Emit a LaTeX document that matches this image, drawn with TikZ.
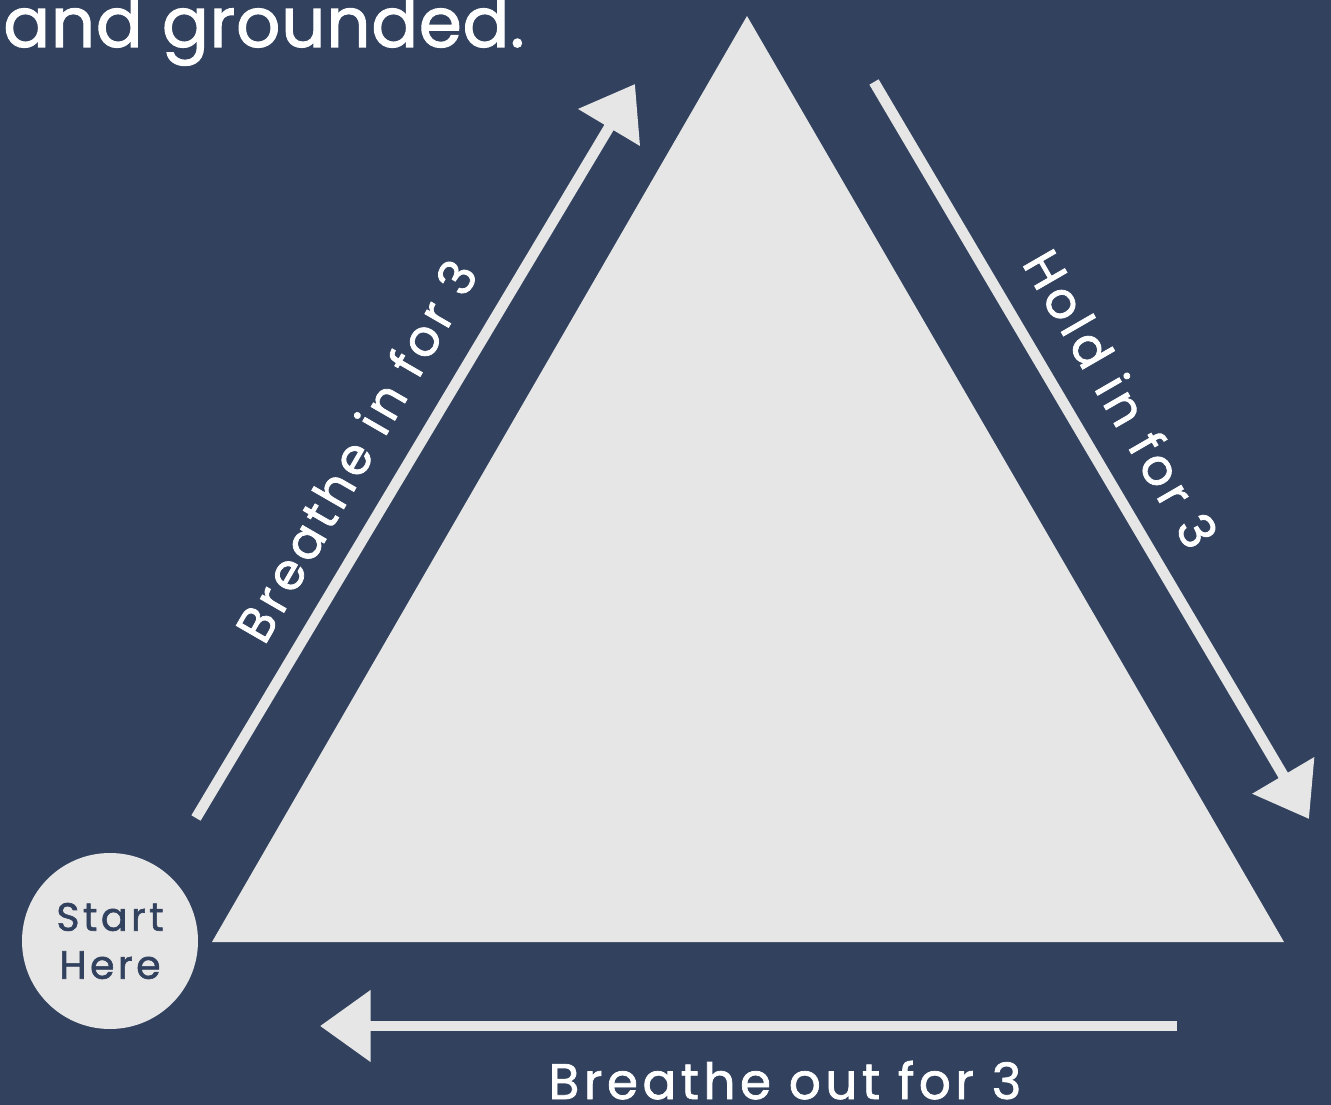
\documentclass[tikz,border=0pt]{standalone}
\usepackage{fontspec}
\setmainfont{Poppins}
\newfontfamily\qfont[LetterSpace=9, FakeBold=1.5]{Poppins}
\newfontfamily\tfont[LetterSpace=1, FakeBold=1.5]{Poppins}
\usepackage{tikz}
\usetikzlibrary{arrows.meta,calc,positioning}
\definecolor{navy}{RGB}{49,65,94}
\definecolor{lightgray}{RGB}{230,230,230}

\begin{document}
\begin{tikzpicture}[
      x=0.75pt, y=-0.75pt,
      lbl/.style={text=white, inner sep=0pt, font=\qfont\fontsize{37.5}{45}\selectfont},
      flow/.style={draw=lightgray, line width=8pt, -{Triangle[length=38pt,width=52pt]}}
    ]
    \useasboundingbox[fill=navy] (0,0) rectangle (1331,1105);
    \node[lbl, anchor=base west, font=\tfont\fontsize{52}{60}\selectfont] (title) at (3,47) {and grounded.};
    \fill[lightgray] (747,16) coordinate (apex) -- (212,942) coordinate (baseL)
      -- (1284,942) coordinate (baseR) -- cycle;
    \node[circle, fill=lightgray, minimum size=132pt, inner sep=0pt, align=center,
      text=navy, font=\qfont\fontsize{29.5}{36}\selectfont] (start) at (110,941) {Start\\Here};
    % the three breathing steps
    \coordinate (inA) at (196,818);
    \coordinate (inB) at (635,84);
    \coordinate (holdA) at (874,82);
    \coordinate (holdB) at (1309,819);
    \coordinate (outA) at (1177,1026);
    \coordinate (outB) at (320,1026);
    \draw[flow] (inA) -- (inB);
    \draw[flow] (holdA) -- (holdB);
    \draw[flow] (outA) -- (outB);
    \node[lbl, rotate=60, anchor=base] (inlbl) at (372,460) {Breathe in for 3};
    \node[lbl, rotate=-60, anchor=base] (holdlbl) at (1105,408) {Hold in for 3};
    \node[lbl, anchor=base] (outlbl) at (785,1099) {Breathe out for 3};
  \end{tikzpicture}
\end{document}
